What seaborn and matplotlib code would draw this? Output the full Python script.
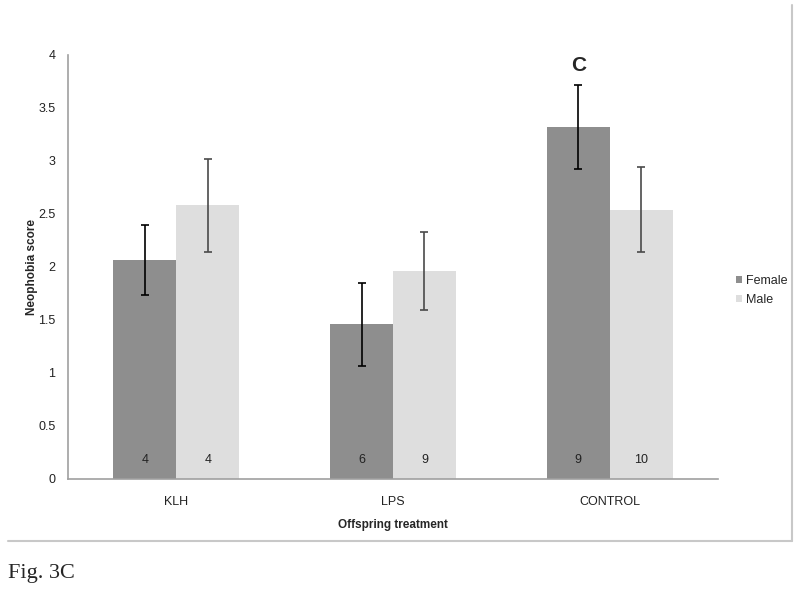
import pandas as pd
import seaborn as sns
import matplotlib.pyplot as plt
from matplotlib.lines import Line2D

treatments = ['KLH', 'LPS', 'CONTROL']
sexes = ['Female', 'Male']
female_mean = [2.07, 1.46, 3.32]
male_mean = [2.58, 1.96, 2.54]
female_sem = [0.33, 0.39, 0.40]
male_sem = [0.44, 0.37, 0.40]
female_n = [4, 6, 9]
male_n = [4, 9, 10]

df = pd.DataFrame({
    'treatment': treatments * 2,
    'sex': ['Female'] * 3 + ['Male'] * 3,
    'score': female_mean + male_mean,
})

sns.set_style('white')
plt.rcParams['font.family'] = ['Liberation Sans', 'DejaVu Sans']

fig = plt.figure(figsize=(8, 5.97), dpi=100)
ax = fig.add_axes([0.085, 0.1977, 0.8125, 0.7102])

sns.barplot(data=df, x='treatment', y='score', hue='sex', order=treatments,
            hue_order=sexes, palette=['#8e8e8e', '#dedede'], width=0.58,
            errorbar=None, saturation=1, linewidth=0, ax=ax, legend=True)

# error bars and n labels, placed on the drawn bars
bars = [p for p in ax.patches if p.get_height() > 0][:6]
sems = female_sem + male_sem
ns = female_n + male_n
for i, bar in enumerate(bars):
    cx = bar.get_x() + bar.get_width() / 2
    col = 'black' if i < 3 else '#4a4a4a'
    ax.errorbar(cx, bar.get_height(), yerr=sems[i], fmt='none', ecolor=col,
                elinewidth=1.2, capsize=3, capthick=1.2)
    ax.text(cx, 0.18, str(ns[i]), ha='center', va='center', fontsize=9,
            color='#222222')

# significance letter over control female
ax.text(bars[2].get_x() + bars[2].get_width() / 2, 3.9, 'C', ha='center',
        va='center', fontsize=15, fontweight='bold')

ax.set_ylim(0, 4)
ax.set_xlim(-0.5, 2.5)
ax.set_yticks([0, 0.5, 1, 1.5, 2, 2.5, 3, 3.5, 4])
ax.set_yticklabels(['0', '0.5', '1', '1.5', '2', '2.5', '3', '3.5', '4'])
ax.set_xticks([-0.5, 0.5, 1.5, 2.5], minor=True)
ax.tick_params(axis='x', which='major', length=0, pad=12, labelsize=9,
               labelcolor='#222222')
ax.tick_params(axis='x', which='minor', length=5, color='#a0a0a0', width=1)
ax.tick_params(axis='y', length=4, color='#a0a0a0', width=1, labelsize=9,
               pad=5, labelcolor='#222222')
ax.set_xlabel('Offspring treatment', fontsize=8.5, fontweight='bold',
              labelpad=8)
ax.set_ylabel('Neophobia score', fontsize=8.5, fontweight='bold', labelpad=0)
for side in ['top', 'right']:
    ax.spines[side].set_visible(False)
for side in ['left', 'bottom']:
    ax.spines[side].set_color('#a0a0a0')
    ax.spines[side].set_linewidth(1.2)

sns.move_legend(ax, 'center left', bbox_to_anchor=(1.01, 0.445), title=None,
                frameon=False, fontsize=9, handlelength=0.5,
                handleheight=0.5, handletextpad=0.3, labelspacing=0.6)

# outer frame lines of the original figure
fig.add_artist(Line2D([0.99, 0.99], [0.094, 0.992], color='#c8c8c8', lw=1.5))
fig.add_artist(Line2D([0.01, 0.99], [0.094, 0.094], color='#c8c8c8', lw=1.5))

fig.text(0.01, 0.04, 'Fig. 3C', fontsize=16, family='Liberation Serif',
         va='center')

fig.savefig('out.png', dpi=100)
